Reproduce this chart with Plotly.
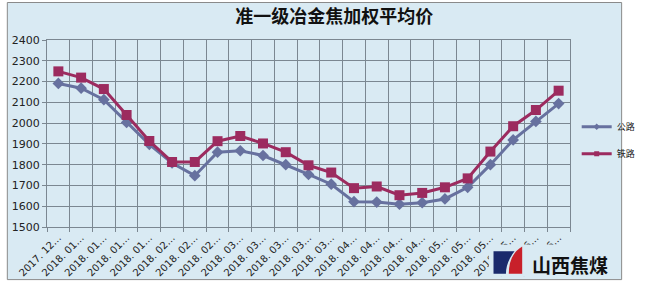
import plotly.graph_objects as go

labels = ["2017. 12…", "2018. 01…", "2018. 01…", "2018. 01…", "2018. 01…",
          "2018. 02…", "2018. 02…", "2018. 02…",
          "2018. 03…", "2018. 03…", "2018. 03…", "2018. 03…", "2018. 03…",
          "2018. 04…", "2018. 04…", "2018. 04…", "2018. 04…",
          "2018. 05…", "2018. 05…", "2018. 05…", "2018. 05…",
          "2018. 06…", "2018. 06…"]
highway = [2191, 2168, 2113, 2003, 1898, 1808, 1747, 1860, 1867, 1844, 1800, 1753,
           1706, 1622, 1620, 1610, 1617, 1635, 1691, 1800, 1919, 2008, 2094]
railway = [2249, 2219, 2164, 2039, 1914, 1813, 1813, 1913, 1938, 1902, 1860, 1797,
           1762, 1687, 1695, 1653, 1664, 1691, 1734, 1863, 1985, 2063, 2156]
yticks = [1500, 1600, 1700, 1800, 1900, 2000, 2100, 2200, 2300, 2400]
series_names = ["公路", "铁路"]

W, H = 653, 291
L, R, T, B = 44, 62, 40, 59
PW, PH = W - L - R, H - T - B
BG = "#d9eaf3"
GRID = "#7b8791"
C_HW = "#67719f"
C_RW = "#9c2b5f"

def px(x):
    return (x - L) / PW

def py(y):
    return (H - B - y) / PH

xs = list(range(len(labels)))

fig = go.Figure()
fig.add_trace(go.Scatter(x=xs, y=highway, name=series_names[0], mode="lines+markers",
                         line=dict(color=C_HW, width=3),
                         marker=dict(symbol="diamond", size=9, color=C_HW),
                         showlegend=False))
fig.add_trace(go.Scatter(x=xs, y=railway, name=series_names[1], mode="lines+markers",
                         line=dict(color=C_RW, width=3),
                         marker=dict(symbol="square", size=10, color=C_RW),
                         showlegend=False))
# legend entries with small markers
fig.add_trace(go.Scatter(x=[None], y=[None], name=series_names[0], mode="lines+markers",
                         line=dict(color=C_HW, width=3),
                         marker=dict(symbol="diamond", size=5, color=C_HW),
                         legendgroup="a"))
fig.add_trace(go.Scatter(x=[None], y=[None], name=series_names[1], mode="lines+markers",
                         line=dict(color=C_RW, width=3),
                         marker=dict(symbol="square", size=5, color=C_RW),
                         legendgroup="b"))

n = len(labels)
fig.update_xaxes(range=[-0.5, n - 0.5], tickvals=xs, ticktext=labels, tickangle=-45,
                 showgrid=False, ticks="", showline=True, linecolor=GRID, mirror=True,
                 tickfont=dict(family="DejaVu Sans", size=10, color="#222"),
                 minor=dict(tickvals=[i + 0.5 for i in range(-1, n)], showgrid=True,
                            gridcolor=GRID, gridwidth=1, ticks="outside", ticklen=4,
                            tickcolor=GRID),
                 zeroline=False)
fig.update_yaxes(range=[1500, 2400], tickvals=yticks, showgrid=True, gridcolor=GRID,
                 gridwidth=1, ticks="outside", ticklen=4, tickcolor=GRID,
                 showline=True, linecolor=GRID, mirror=True, zeroline=False,
                 tickfont=dict(family="DejaVu Sans", size=11, color="#222"))

shapes = [
    dict(type="rect", xref="paper", yref="paper", layer="below",
         x0=px(2.5), x1=px(645), y0=py(286), y1=py(1.5),
         fillcolor=BG, line=dict(color="#8a8a8a", width=1)),
    # logo background
    dict(type="rect", xref="paper", yref="paper", layer="above",
         x0=px(506), x1=px(637), y0=py(283), y1=py(250),
         fillcolor=BG, line=dict(width=0)),
    # navy block
    dict(type="path", xref="paper", yref="paper", layer="above",
         path=f"M {px(511)},{py(257)} L {px(533)},{py(257)} Q {px(524)},{py(268)} {px(524)},{py(280)} L {px(511)},{py(280)} Z",
         fillcolor="#1a2a6c", line=dict(width=0)),
    # red shape
    dict(type="path", xref="paper", yref="paper", layer="above",
         path=f"M {px(541)},{py(252)} L {px(541)},{py(280)} L {px(527)},{py(280)} Q {px(527)},{py(260)} {px(541)},{py(252)} Z",
         fillcolor="#c8202a", line=dict(width=0)),
]

annotations = [
    dict(text="<b>山西焦煤</b>", xref="paper", yref="paper", x=px(591), y=py(271),
         xanchor="center", yanchor="middle", showarrow=False,
         font=dict(family="Noto Sans CJK SC", size=19, color="#111")),
]

fig.update_layout(
    width=W, height=H,
    margin=dict(l=L, r=R, t=T, b=B, pad=0),
    paper_bgcolor="white", plot_bgcolor=BG,
    title=dict(text="<b>准一级冶金焦加权平均价</b>", x=px(324), xanchor="center",
               y=1 - 17 / H, yanchor="middle",
               font=dict(family="Noto Sans CJK SC", size=18, color="#111")),
    legend=dict(x=px(598), y=py(143), xanchor="left", yanchor="middle",
                bgcolor="rgba(0,0,0,0)", tracegroupgap=8, itemwidth=30,
                font=dict(family="Noto Sans CJK SC", size=9, color="#222")),
    shapes=shapes, annotations=annotations,
)

fig.write_html("out.html")
